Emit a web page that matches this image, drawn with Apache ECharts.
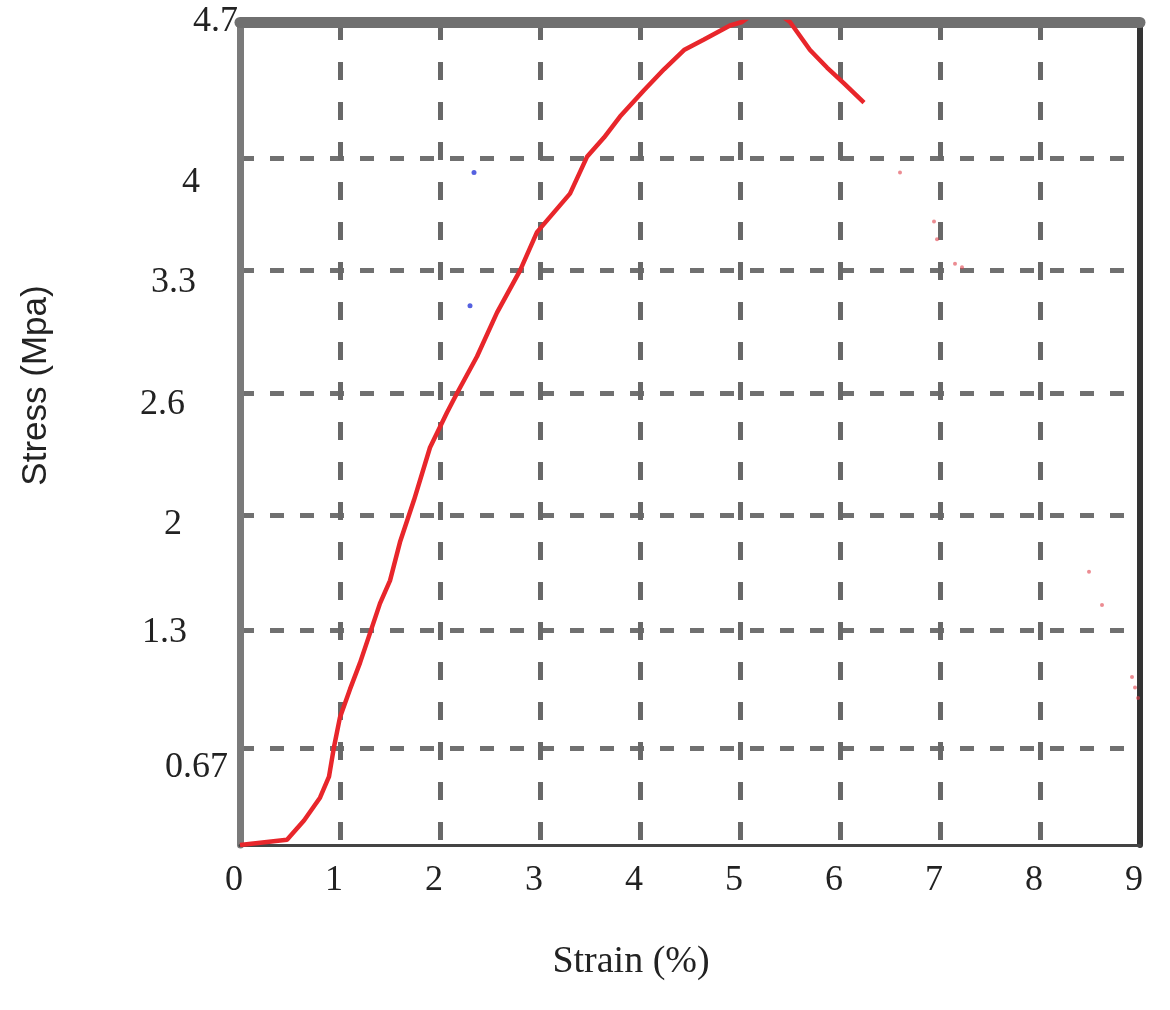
<!DOCTYPE html>
<html>
<head>
<meta charset="utf-8">
<script src="https://cdn.jsdelivr.net/npm/echarts@6/dist/echarts.min.js"></script>
<style>
  html, body { margin: 0; padding: 0; background: #fff; }
  #chart { width: 1170px; height: 1010px; }
</style>
</head>
<body>
<div id="chart"></div>
<script>
// ---- data (strain %, stress MPa) ----
const strain = [0, 0.47, 0.64, 0.80, 0.89, 0.94, 1.00, 1.10, 1.20, 1.30, 1.40, 1.50, 1.60, 1.74, 1.90, 2.07, 2.17, 2.37, 2.57, 2.80, 2.97, 3.30, 3.47, 3.64, 3.80, 4.04, 4.24, 4.44, 4.64, 4.77, 4.90, 5.02, 5.26, 5.50, 5.70, 5.87, 6.04, 6.24];
const stress = [0, 0.03, 0.14, 0.27, 0.39, 0.56, 0.73, 0.89, 1.04, 1.21, 1.38, 1.51, 1.73, 1.97, 2.27, 2.47, 2.58, 2.79, 3.04, 3.28, 3.50, 3.72, 3.93, 4.04, 4.16, 4.31, 4.43, 4.54, 4.60, 4.64, 4.68, 4.70, 4.80, 4.70, 4.54, 4.44, 4.35, 4.24];

// faint scan specks (strain, stress)
const redSpeckX = [6.60, 6.94, 6.97, 7.15, 7.22, 8.49, 8.62, 8.92, 8.95, 8.98];
const redSpeckY = [3.84, 3.56, 3.46, 3.32, 3.30, 1.56, 1.37, 0.96, 0.90, 0.84];
const blueSpeckX = [2.34, 2.30];
const blueSpeckY = [3.84, 3.08];

// ---- axis ticks / labels ----
const xTickLabels = ['0', '1', '2', '3', '4', '5', '6', '7', '8', '9'];
const yTickLabels = ['0.67', '1.3', '2', '2.6', '3.3', '4', '4.7'];
const yGridAt  = [0.554, 1.228, 1.885, 2.581, 3.284, 3.923];          // where the dashed lines sit
const yLabelAt = [0.44, 1.216, 1.828, 2.513, 3.21, 3.781, 4.7];        // where the labels sit
const yLabelInset = [18, 59, 64, 61, 50, 46, 8];                       // label right-edge inset (px)

const curve = strain.map((x, i) => [x, stress[i]]);
const redSpecks = redSpeckX.map((x, i) => [x, redSpeckY[i]]);
const blueSpecks = blueSpeckX.map((x, i) => [x, blueSpeckY[i]]);

const serif = '"Liberation Serif", "Times New Roman", serif';

const yRich = {};
yLabelInset.forEach((p, i) => {
  yRich['l' + i] = { fontFamily: serif, fontSize: 36, color: '#222', padding: [0, p, 0, 0] };
});

const chart = echarts.init(document.getElementById('chart'), null, { renderer: 'canvas' });
chart.setOption({
  animation: false,
  backgroundColor: '#ffffff',
  grid: { left: 240, top: 22, width: 900, height: 823 },
  xAxis: [
    {
      type: 'value', min: 0, max: 9, interval: 1,
      name: 'Strain (%)', nameLocation: 'middle', nameGap: 98,
      nameTextStyle: { fontFamily: serif, fontSize: 38, color: '#222', padding: [0, 118, 0, 0] },
      axisLine: { show: true, lineStyle: { color: '#444', width: 3 } },
      axisTick: { show: false },
      axisLabel: {
        margin: 18, fontFamily: serif, fontSize: 36, color: '#222', padding: [0, 12, 0, 0],
        showMinLabel: true, showMaxLabel: true,
        formatter: v => xTickLabels[Math.round(v)] ?? ''
      },
      splitLine: {
        show: true,
        lineStyle: { color: '#686868', width: 5, type: [18, 22] }
      }
    },
    {
      type: 'value', min: 0, max: 9, position: 'top',
      axisLine: { show: true, onZero: false, lineStyle: { color: '#707070', width: 11 } },
      axisTick: { show: false }, axisLabel: { show: false }, splitLine: { show: false }
    }
  ],
  yAxis: [
    {
      type: 'value', min: 0, max: 4.7,
      name: 'Stress (Mpa)', nameLocation: 'middle', nameGap: 186, nameRotate: 90,
      nameTextStyle: { fontFamily: '"Liberation Sans", Arial, sans-serif', fontSize: 35, color: '#222', padding: [0, 0, 0, 96] },
      axisLine: { show: true, onZero: false, lineStyle: { color: '#7a7a7a', width: 7 } },
      axisTick: { show: false, customValues: yGridAt },
      axisLabel: {
        margin: -6, fontFamily: serif, fontSize: 36, color: '#222',
        customValues: yLabelAt,
        rich: yRich,
        formatter: v => {
          const i = yLabelAt.findIndex(p => Math.abs(p - v) < 1e-6);
          return i >= 0 ? '{l' + i + '|' + yTickLabels[i] + '}' : '';
        }
      },
      splitLine: {
        show: true,
        lineStyle: { color: '#707070', width: 5, type: [14, 16] }
      }
    },
    {
      type: 'value', min: 0, max: 4.7, position: 'right',
      axisLine: { show: true, onZero: false, lineStyle: { color: '#333', width: 6 } },
      axisTick: { show: false }, axisLabel: { show: false }, splitLine: { show: false }
    }
  ],
  series: [
    {
      type: 'line', data: curve, xAxisIndex: 0, yAxisIndex: 0,
      showSymbol: false, smooth: false, clip: true,
      lineStyle: { color: '#e8262b', width: 4.5 },
      z: 3
    },
    {
      type: 'scatter', data: redSpecks, symbolSize: 4,
      itemStyle: { color: '#e0404a', opacity: 0.6 }, z: 4
    },
    {
      type: 'scatter', data: blueSpecks, symbolSize: 5,
      itemStyle: { color: '#2a3ad8' }, z: 4
    }
  ]
});
</script>
</body>
</html>
